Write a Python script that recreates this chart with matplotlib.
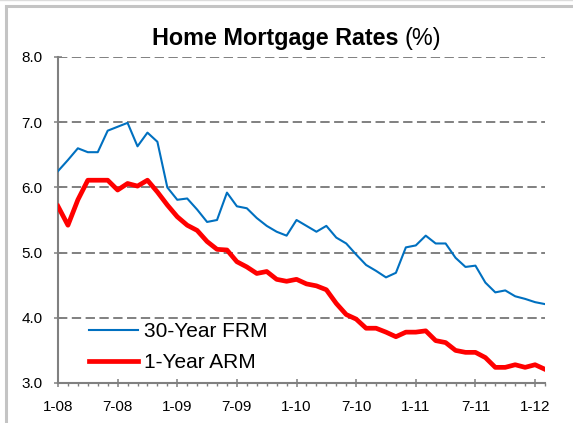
import numpy as np
import pandas as pd
import matplotlib
matplotlib.use("Agg")
import matplotlib.pyplot as plt
from matplotlib.lines import Line2D
from matplotlib.ticker import FixedLocator, MultipleLocator

plt.rcParams['font.family'] = ['Liberation Sans', 'DejaVu Sans']

# monthly averages, Jan 2008 - Feb 2012
months = pd.period_range('2008-01', '2012-02', freq='M')
frm_30yr = [6.25, 6.42, 6.60, 6.54, 6.54, 6.87, 6.93, 6.99, 6.63, 6.84,
            6.70, 6.00, 5.81, 5.83, 5.66, 5.47, 5.50, 5.92, 5.71, 5.68,
            5.53, 5.41, 5.32, 5.26, 5.50, 5.41, 5.32, 5.41, 5.23, 5.14,
            4.97, 4.81, 4.72, 4.62, 4.69, 5.08, 5.11, 5.26, 5.14, 5.14,
            4.92, 4.78, 4.80, 4.54, 4.39, 4.42, 4.33, 4.29, 4.24, 4.21]
arm_1yr = [5.71, 5.42, 5.81, 6.11, 6.11, 6.11, 5.96, 6.06, 6.02, 6.11,
           5.93, 5.73, 5.55, 5.42, 5.34, 5.17, 5.05, 5.04, 4.86, 4.78,
           4.68, 4.71, 4.59, 4.56, 4.59, 4.52, 4.49, 4.43, 4.22, 4.05,
           3.98, 3.84, 3.84, 3.78, 3.71, 3.78, 3.78, 3.80, 3.65, 3.62,
           3.50, 3.47, 3.47, 3.39, 3.24, 3.24, 3.28, 3.24, 3.28, 3.21]
y_ticks = [3.0, 4.0, 5.0, 6.0, 7.0, 8.0]

x = np.arange(len(months))
major_pos = [i for i, m in enumerate(months) if m.month in (1, 7)]
major_labels = [f"{months[i].month}-{months[i].year % 100:02d}" for i in major_pos]

W, H = 573, 423
fig = plt.figure(figsize=(W / 100, H / 100), dpi=100)
ax = fig.add_axes([58 / W, 1 - 383 / H, (545 - 58) / W, (383 - 57) / H])

grey = '#808080'
ax.plot(x, frm_30yr, color='#0070C0', lw=1.5, label='30-Year FRM', zorder=3)
ax.plot(x, arm_1yr, color='#FF0000', lw=3.4, label='1-Year ARM',
        solid_joinstyle='round', zorder=4)

ax.set_xlim(0, len(months) - 1)
ax.set_ylim(3, 8)
ax.set_yticks(y_ticks)
ax.set_yticklabels([f"{v:.1f}" for v in y_ticks])
ax.xaxis.set_major_locator(FixedLocator(major_pos))
ax.set_xticklabels(major_labels)
ax.xaxis.set_minor_locator(MultipleLocator(1))

ax.yaxis.grid(True, color=grey, lw=1.4, linestyle=(0, (4.8, 2.3)), zorder=1)
ax.set_axisbelow(True)
for s in ('top', 'right'):
    ax.spines[s].set_visible(False)
for s in ('left', 'bottom'):
    ax.spines[s].set_color(grey)
    ax.spines[s].set_linewidth(1.5)

ax.tick_params(axis='both', which='major', direction='inout', length=6,
               width=1.1, color=grey, labelsize=11, labelcolor='black')
ax.tick_params(axis='y', pad=8)
ax.tick_params(axis='x', pad=9)
ax.tick_params(axis='x', which='minor', direction='out', length=2.5,
               width=1.0, color=grey)

leg = ax.legend(loc='upper left', bbox_to_anchor=(31 / (545 - 58), 1 - (322 - 57) / (383 - 57)),
                frameon=False, fontsize=15, handlelength=2.35,
                handletextpad=0.3, labelspacing=0.6, borderaxespad=0,
                borderpad=0)

# title: bold part + regular "(%)"
fig.text(398 / W, 1 - 44.5 / H, 'Home Mortgage Rates', ha='right', va='baseline',
         fontsize=16.8, fontweight='bold')
fig.text(404 / W, 1 - 44.5 / H, '(%)', ha='left', va='baseline', fontsize=16.8)

# chart frame remnants (top and left borders)
fig.add_artist(Line2D([5.5 / W, 5.5 / W], [0, 1 - 7 / H], color='#c4c4c4', lw=2.2))
fig.add_artist(Line2D([5.5 / W, 1], [1 - 6.5 / H, 1 - 6.5 / H], color='#c4c4c4', lw=2.2))
fig.add_artist(Line2D([0, 1], [1 - 0.5 / H, 1 - 0.5 / H], color='#dcdcdc', lw=1.0))

fig.savefig('out.png', dpi=100)
